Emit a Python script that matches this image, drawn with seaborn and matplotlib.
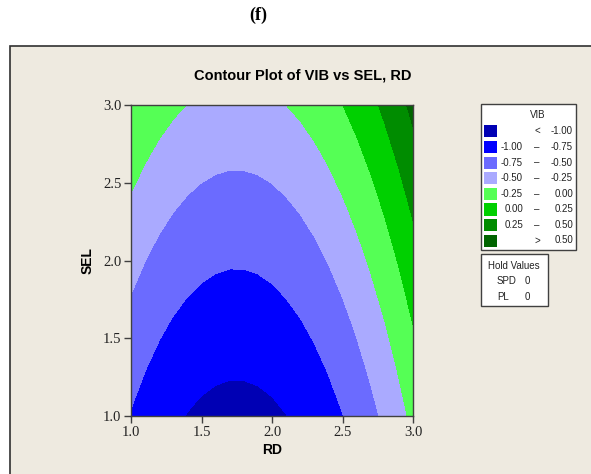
import numpy as np
import matplotlib
matplotlib.use("Agg")
import matplotlib.pyplot as plt
from matplotlib.patches import Rectangle
import seaborn as sns

# axis grids (RD across, SEL up)
rd = [1.0, 1.1, 1.2, 1.3, 1.4, 1.5, 1.6, 1.7, 1.8, 1.9, 2.0,
      2.1, 2.2, 2.3, 2.4, 2.5, 2.6, 2.7, 2.8, 2.9, 3.0]
sel = [1.0, 1.1, 1.2, 1.3, 1.4, 1.5, 1.6, 1.7, 1.8, 1.9, 2.0,
       2.1, 2.2, 2.3, 2.4, 2.5, 2.6, 2.7, 2.8, 2.9, 3.0]

# VIB: additive RD part + SEL part
rd_part = [0.311, 0.233, 0.166, 0.111, 0.067, 0.034, 0.012, 0.001, 0.002, 0.013, 0.036,
           0.071, 0.116, 0.172, 0.240, 0.319, 0.409, 0.511, 0.623, 0.747, 0.882]
sel_part = [-1.075, -1.044, -1.011, -0.979, -0.945, -0.911, -0.877, -0.841, -0.805, -0.768, -0.731,
            -0.693, -0.654, -0.615, -0.575, -0.534, -0.493, -0.451, -0.408, -0.365, -0.321]

levels = [-5, -1.0, -0.75, -0.5, -0.25, 0.0, 0.25, 0.5, 5]
colors = ["#0000B4", "#0000FF", "#6B6BFF", "#AAAAFF",
          "#55FF55", "#00D000", "#008C00", "#006400"]
legend_left = ["", "-1.00", "-0.75", "-0.50", "-0.25", "0.00", "0.25", ""]
legend_mid = ["<", "\u2013", "\u2013", "\u2013", "\u2013", "\u2013", "\u2013", ">"]
legend_right = ["-1.00", "-0.75", "-0.50", "-0.25", "0.00", "0.25", "0.50", "0.50"]

hold_names = ["SPD", "PL"]
hold_vals = ["0", "0"]

sns.set_theme(style="white")
plt.rcParams["font.family"] = ["Liberation Sans", "DejaVu Sans"]
plt.rcParams["text.color"] = "black"
plt.rcParams["axes.labelcolor"] = "black"

W, H = 591, 474
fig = plt.figure(figsize=(W / 100, H / 100), dpi=100)
fig.patch.set_facecolor("white")


def fx(x):
    return x / W


def fy(y):
    return 1 - y / H


BG = "#EEEAE0"
EDGE = "#404040"
TXT = "#222222"

# beige panel, cut off at right and bottom like the original
fig.add_artist(Rectangle((fx(10), -0.05), 1.2, fy(46) + 0.05, transform=fig.transFigure,
                         facecolor=BG, edgecolor="#303030", lw=1.2, zorder=-10))

fig.text(fx(258), fy(15), "(f)", ha="center", va="center", fontsize=13,
         fontweight="bold", family=["Liberation Serif", "DejaVu Serif"])

ax = fig.add_axes([fx(131), fy(416), fx(413) - fx(131), fy(105) - fy(416)])
ax.set_zorder(5)
ax.patch.set_alpha(0)
Z = np.array(sel_part)[:, None] + np.array(rd_part)[None, :]
ax.contourf(rd, sel, Z, levels=levels, colors=colors)
ax.set_xlim(1.0, 3.0)
ax.set_ylim(1.0, 3.0)
ax.set_xticks([1.0, 1.5, 2.0, 2.5, 3.0])
ax.set_yticks([1.0, 1.5, 2.0, 2.5, 3.0])
ax.set_xticklabels(["1.0", "1.5", "2.0", "2.5", "3.0"])
ax.set_yticklabels(["1.0", "1.5", "2.0", "2.5", "3.0"])
ax.tick_params(direction="out", length=5, width=1, color=EDGE, labelsize=10.5,
               pad=2, bottom=True, left=True, labelcolor=TXT)
for lbl in ax.get_xticklabels() + ax.get_yticklabels():
    lbl.set_fontfamily(["Liberation Serif", "DejaVu Serif"])
for s in ax.spines.values():
    s.set_color(EDGE)
    s.set_linewidth(1)
ax.set_xlabel("RD", fontsize=10, fontweight="bold", labelpad=3)
ax.set_ylabel("SEL", fontsize=10, fontweight="bold", labelpad=6)

fig.text(fx(303), fy(76), "Contour Plot of VIB vs SEL, RD", ha="center", va="center",
         fontsize=10.5, fontweight="bold")

# legend box
fig.add_artist(Rectangle((fx(481), fy(250)), fx(576) - fx(481), fy(104) - fy(250),
                         transform=fig.transFigure, facecolor="white", edgecolor=EDGE, lw=1))
fig.text(fx(538), fy(115), "VIB", ha="center", va="center", fontsize=7, color=TXT)
rows = [131, 147, 162.5, 178, 194, 209.5, 225, 240.5]
for y, c, a, m, b in zip(rows, colors, legend_left, legend_mid, legend_right):
    fig.add_artist(Rectangle((fx(484), fy(y + 6)), fx(497) - fx(484), fy(y - 6) - fy(y + 6),
                             transform=fig.transFigure, facecolor=c, edgecolor="none"))
    fig.text(fx(523), fy(y), a, ha="right", va="center", fontsize=7, color=TXT)
    fig.text(fx(537), fy(y), m, ha="center", va="center", fontsize=7, color=TXT)
    fig.text(fx(573), fy(y), b, ha="right", va="center", fontsize=7, color=TXT)

# hold values box
fig.add_artist(Rectangle((fx(481), fy(306)), fx(548) - fx(481), fy(254) - fy(306),
                         transform=fig.transFigure, facecolor="white", edgecolor=EDGE, lw=1))
fig.text(fx(514), fy(266), "Hold Values", ha="center", va="center", fontsize=7, color=TXT)
for y, n, v in zip([281, 297], hold_names, hold_vals):
    fig.text(fx(497), fy(y), n, ha="left", va="center", fontsize=7, color=TXT)
    fig.text(fx(525), fy(y), v, ha="left", va="center", fontsize=7, color=TXT)

fig.savefig("out.png", dpi=100, facecolor=fig.get_facecolor())
